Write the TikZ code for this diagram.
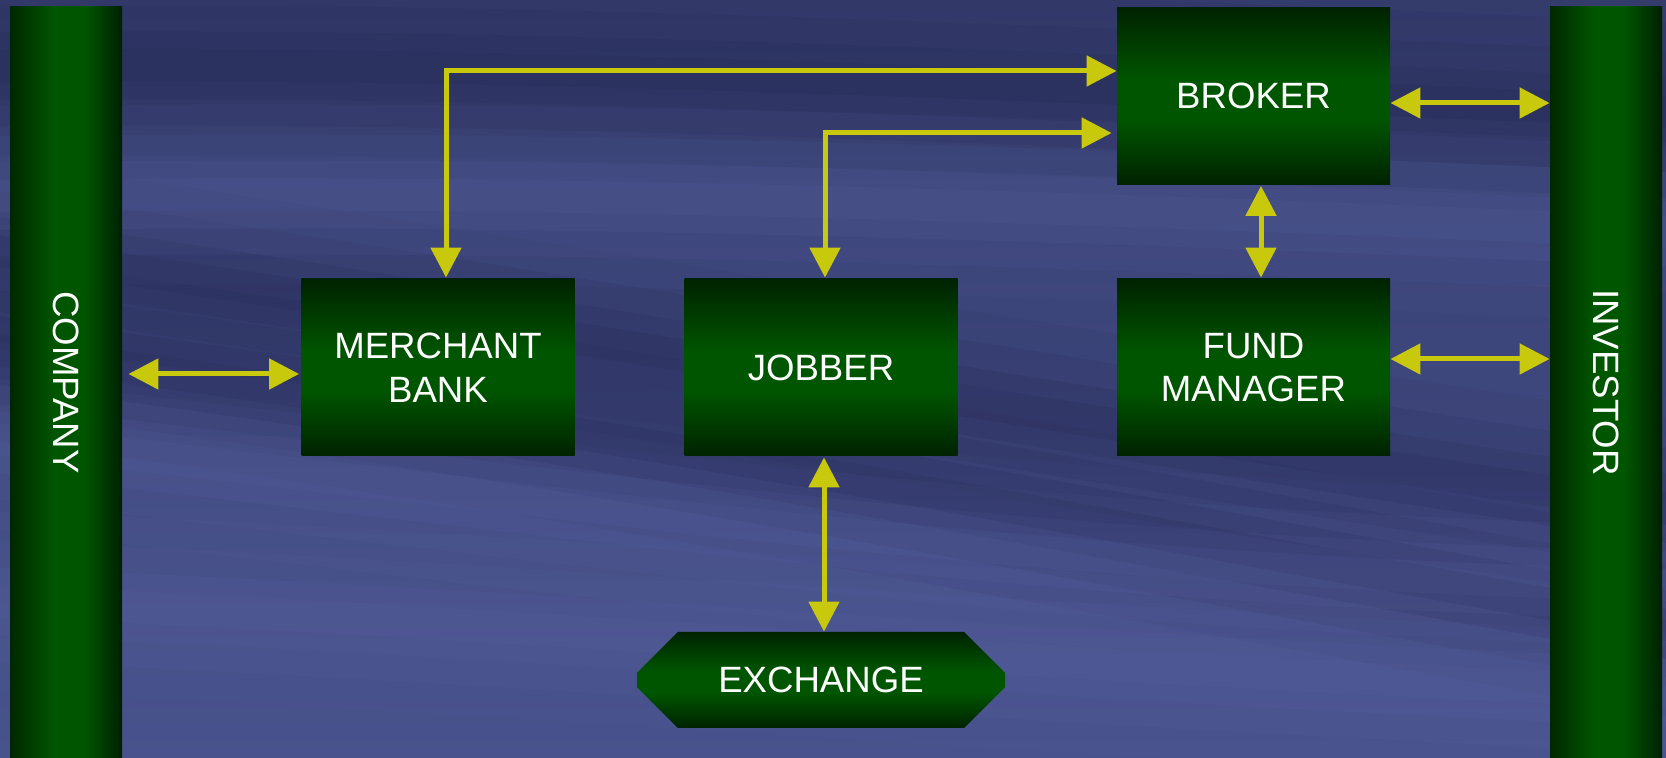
\documentclass[tikz,border=0pt]{standalone}
\usepackage{fontspec}
\setmainfont{Liberation Sans}
\usetikzlibrary{arrows.meta,shapes.misc,calc}
\definecolor{arrowy}{RGB}{200,200,12}
\definecolor{gdark}{RGB}{0,40,0}
\definecolor{gmid}{RGB}{0,86,0}
\definecolor{bgtop}{RGB}{52,60,108}
\definecolor{bgbot}{RGB}{72,82,140}
\definecolor{streakdark}{RGB}{30,32,72}
\definecolor{streaklight}{RGB}{95,105,170}
\pgfdeclareverticalshading{boxshade}{100bp}{color(0bp)=(gdark); color(25bp)=(gdark!85!black); color(44bp)=(gmid); color(54bp)=(gmid); color(75bp)=(gdark!85!black); color(100bp)=(gdark!85!black)}
\pgfdeclarehorizontalshading{barshade}{100bp}{color(0bp)=(gdark); color(25bp)=(gdark); color(45bp)=(gmid); color(58bp)=(gmid); color(75bp)=(gdark!80!black); color(100bp)=(gdark!80!black)}
\begin{document}
\begin{tikzpicture}[x=0.5pt,y=0.5pt,
  txt/.style={text=white, align=center, font=\fontsize{18.3}{21.75}\selectfont},
  box/.style={txt, rectangle, shading=boxshade, minimum width=136.5pt, minimum height=88.5pt, inner sep=0pt},
  bar/.style={txt, rectangle, shading=barshade, minimum width=56pt, minimum height=375.5pt, inner sep=0pt},
  exch/.style={txt, chamfered rectangle, chamfered rectangle xsep=14pt, chamfered rectangle ysep=14pt, shading=boxshade, minimum width=184pt, minimum height=48pt, inner sep=0pt},
  conn/.style={draw=arrowy, line width=2.5pt, {Triangle[length=15pt,width=15pt]}-{Triangle[length=15pt,width=15pt]}}
]
\useasboundingbox (0,0) rectangle (1666,758);
% background
\shade[top color=bgtop, bottom color=bgbot] (0,0) rectangle (1666,758);
\begin{scope}
\clip (0,0) rectangle (1666,758);
\foreach \w/\o in {90/0.08,60/0.10,34/0.12,16/0.12}{
  \draw[streakdark, line width=\w, opacity=\o] (-100,520) .. controls (500,440) and (900,360) .. (1800,230);
  \draw[streakdark, line width=\w, opacity=\o] (-100,420) .. controls (700,320) and (1100,230) .. (1800,110);
  \draw[streakdark, line width=\w, opacity=\o] (-100,690) .. controls (400,700) and (900,680) .. (1800,640);
  \draw[streaklight, line width=\w, opacity=\o] (-100,560) .. controls (400,570) and (900,560) .. (1800,520);
  \draw[streaklight, line width=\w, opacity=\o] (-100,160) .. controls (500,140) and (1000,90) .. (1800,60);
  \draw[streaklight, line width=\w, opacity=\o] (-100,330) .. controls (700,240) and (1100,180) .. (1800,170);
}
\end{scope}
% nodes
\node[bar] (company) at (66,375.5) {\rotatebox{-90}{COMPANY}};
\node[bar] (investor) at (1606,375.5) {\rotatebox{-90}{INVESTOR}};
\node[box] (broker) at (1253.5,662) {BROKER};
\node[box] (merchant) at (438,390.5) {MERCHANT\\BANK};
\node[box] (jobber) at (821,390.5) {JOBBER};
\node[box] (fund) at (1253.5,390.5) {FUND\\MANAGER};
\node[exch] (exchange) at (821,78) {EXCHANGE};
% connector end points
\coordinate (cm) at ($(merchant.west)+(-2,-6.5)$);
\coordinate (bi) at ($(broker.east)+(0,-7)$);
\coordinate (fi) at ($(fund.east)+(0,8.5)$);
% connectors
\draw[conn] ($(company.east |- cm)+(6,0)$) -- (cm);
\draw[conn] ($(broker.west)+(0,25)$) -| ($(merchant.north)+(8,1)$);
\draw[conn] ($(broker.west)+(-5,-37)$) -| ($(jobber.north)+(4,1)$);
\draw[conn] (bi) -- (investor.west |- bi);
\draw[conn] (fi) -- (investor.west |- fi);
\draw[conn] ($(broker.south)+(7.5,-1)$) -- ($(fund.north)+(7.5,1)$);
\draw[conn] ($(jobber.south)+(3,-1)$) -- ($(exchange.north)+(3,0)$);
\end{tikzpicture}
\end{document}
